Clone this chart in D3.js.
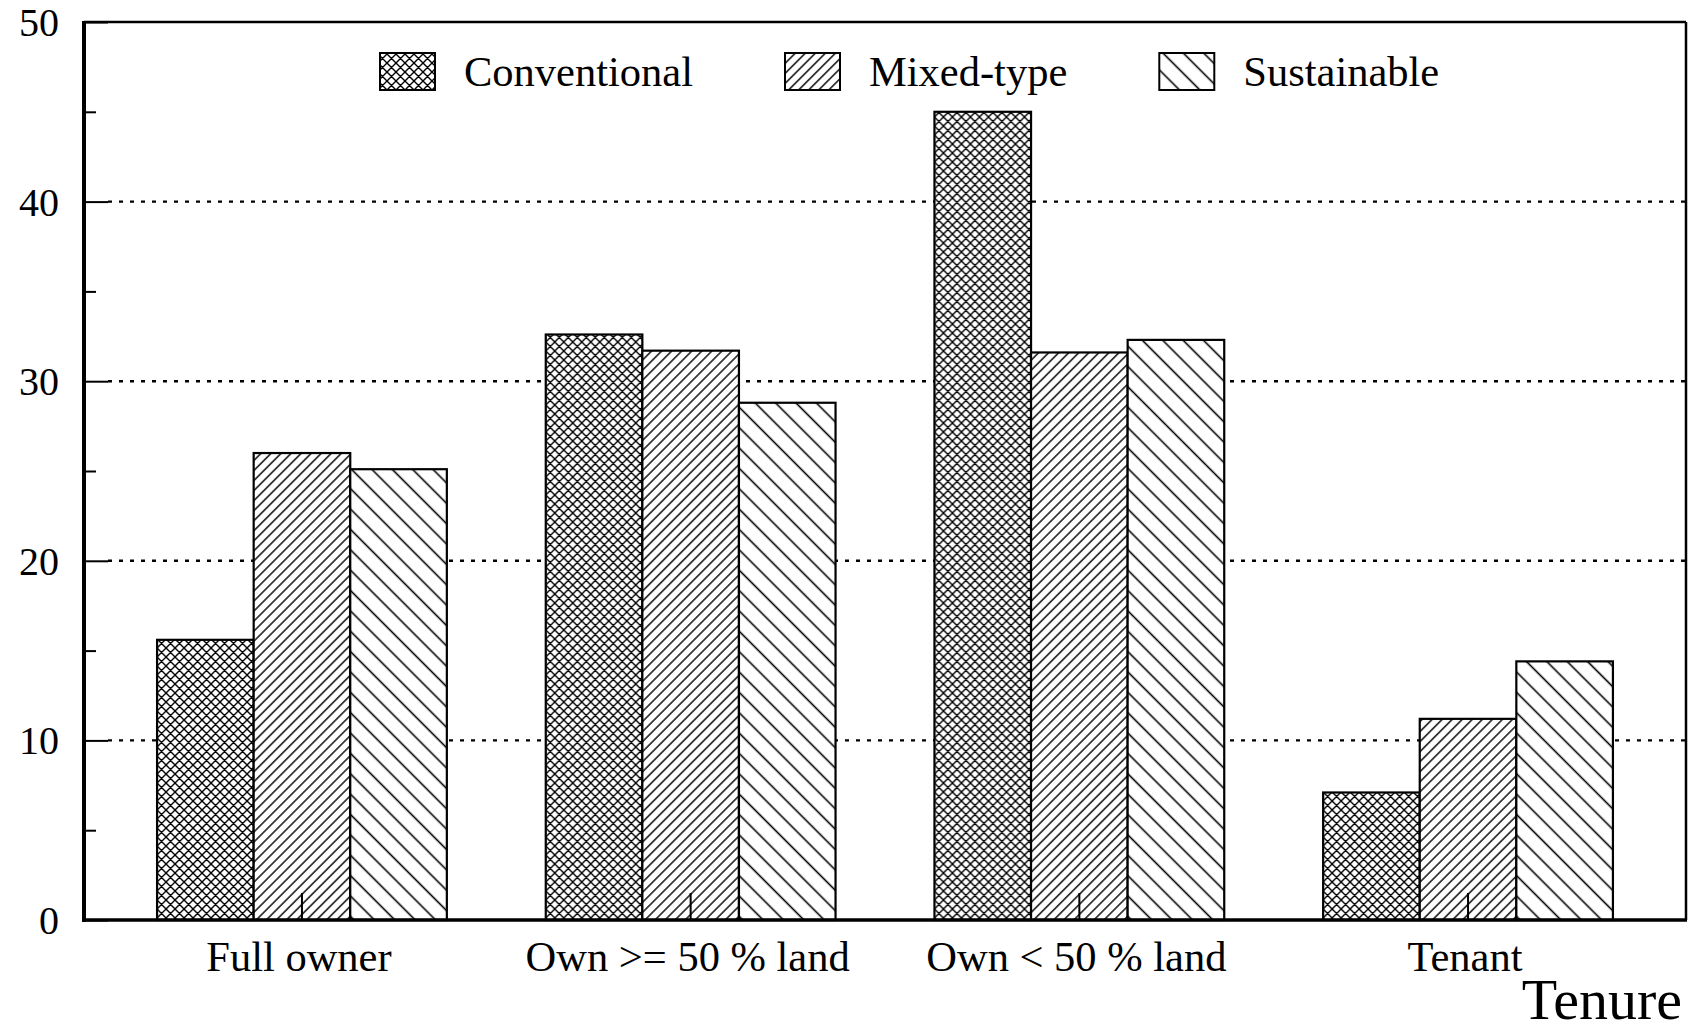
<!DOCTYPE html>
<html>
<head>
<meta charset="utf-8">
<script src="https://cdn.jsdelivr.net/npm/d3@7"></script>
<style>
  html, body { margin: 0; padding: 0; background: #fff; }
  svg { display: block; }
  text { font-family: "Liberation Serif", "Times New Roman", serif; fill: #000; }
</style>
</head>
<body>
<svg id="chart" width="1689" height="1033"></svg>
<script>
// ---- data ----
const categories = ["Full owner", "Own >= 50 % land", "Own < 50 % land", "Tenant"];
const seriesNames = ["Conventional", "Mixed-type", "Sustainable"];
const conventional = [15.6, 32.6, 45.0, 7.1];
const mixedType    = [26.0, 31.7, 31.6, 11.2];
const sustainable  = [25.1, 28.8, 32.3, 14.4];
const yTicks = [0, 10, 20, 30, 40, 50];
const yMinorTicks = [5, 15, 25, 35, 45];
const xTitle = "Tenure";

const seriesValues = [conventional, mixedType, sustainable];

(function () {
// ---- layout ----
const mLeft = 84, mRight = 1686, mTop = 22, mBottom = 920;

const svg = d3.select("#chart");

// patterns
const defs = svg.append("defs");
const pCross = defs.append("pattern").attr("id", "pat0")
  .attr("patternUnits", "userSpaceOnUse").attr("width", 9).attr("height", 9);
pCross.append("rect").attr("width", 9).attr("height", 9).attr("fill", "#fff");
pCross.append("path").attr("d", "M0,0L9,9M0,9L9,0M-1,8L1,10M8,-1L10,1M-1,1L1,-1M8,10L10,8")
  .attr("stroke", "#000").attr("stroke-width", 1.4).attr("fill", "none");

function hatch(id, spacing, angle, sw) {
  const p = defs.append("pattern").attr("id", id)
    .attr("patternUnits", "userSpaceOnUse")
    .attr("width", spacing).attr("height", spacing)
    .attr("patternTransform", `rotate(${angle})`);
  p.append("rect").attr("width", spacing).attr("height", spacing).attr("fill", "#fff");
  p.append("line").attr("x1", spacing / 2).attr("x2", spacing / 2)
    .attr("y1", 0).attr("y2", spacing)
    .attr("stroke", "#000").attr("stroke-width", sw);
}
hatch("pat1", 7.1, 45, 1.4);
hatch("pat2", 14.4, -45, 1.6);
const fills = ["url(#pat0)", "url(#pat1)", "url(#pat2)"];

// scales
const x0 = d3.scaleBand().domain(categories).range([mLeft, mRight])
  .paddingInner(0.2545).paddingOuter(0.188);
const x1 = d3.scaleBand().domain(seriesNames).range([0, x0.bandwidth()]).padding(0);
const y = d3.scaleLinear().domain([0, 50]).range([mBottom, mTop]);

// gridlines (dotted)
svg.append("g").selectAll("line").data(yTicks.filter(d => d > 0 && d < 50)).join("line")
  .attr("x1", mLeft + 24).attr("x2", mRight)
  .attr("y1", d => y(d)).attr("y2", d => y(d))
  .attr("stroke", "#000").attr("stroke-width", 2.4)
  .attr("stroke-dasharray", "4,7");

// y-axis: inward ticks
const yAxis = d3.axisRight(y).tickValues(yTicks).tickSize(24).tickFormat("");
const gy = svg.append("g").attr("transform", `translate(${mLeft},0)`).call(yAxis);
gy.select(".domain").remove();
gy.selectAll(".tick line").attr("stroke", "#000").attr("stroke-width", 2);
const yMinor = d3.axisRight(y).tickValues(yMinorTicks).tickSize(12).tickFormat("");
const gym = svg.append("g").attr("transform", `translate(${mLeft},0)`).call(yMinor);
gym.select(".domain").remove();
gym.selectAll(".tick line").attr("stroke", "#000").attr("stroke-width", 2);

// y tick labels
svg.append("g").selectAll("text").data(yTicks).join("text")
  .attr("x", mLeft - 25).attr("y", d => y(d)).attr("dy", "0.35em")
  .attr("text-anchor", "end").attr("font-size", 40)
  .text(d => d);

// bars
const groups = svg.append("g").selectAll("g").data(categories).join("g")
  .attr("transform", d => `translate(${x0(d)},0)`);
groups.selectAll("rect").data((d, i) => seriesNames.map((s, j) => ({ s, j, v: seriesValues[j][i] })))
  .join("rect")
  .attr("x", d => x1(d.s)).attr("width", x1.bandwidth())
  .attr("y", d => y(d.v)).attr("height", d => y(0) - y(d.v))
  .attr("fill", d => fills[d.j])
  .attr("stroke", "#000").attr("stroke-width", 2.2);

// x-axis ticks (inward, at group centers)
const xAxis = d3.axisTop(x0).tickSize(27).tickFormat("");
const gx = svg.append("g").attr("transform", `translate(0,${mBottom})`).call(xAxis);
gx.select(".domain").remove();
gx.selectAll(".tick line").attr("stroke", "#000").attr("stroke-width", 2);

// x labels
svg.append("g").selectAll("text").data(categories).join("text")
  .attr("x", d => x0(d) + x0.bandwidth() / 2 - 3).attr("y", 971)
  .attr("text-anchor", "middle").attr("font-size", 42.5)
  .text(d => d);

// frame
svg.append("line").attr("x1", mLeft).attr("x2", mRight).attr("y1", mTop).attr("y2", mTop)
  .attr("stroke", "#000").attr("stroke-width", 2.5);
svg.append("line").attr("x1", mRight).attr("x2", mRight).attr("y1", mTop).attr("y2", mBottom)
  .attr("stroke", "#000").attr("stroke-width", 2.5);
svg.append("line").attr("x1", mLeft).attr("x2", mLeft).attr("y1", mTop - 1).attr("y2", mBottom + 2)
  .attr("stroke", "#000").attr("stroke-width", 4);
svg.append("line").attr("x1", mLeft - 2).attr("x2", mRight + 1).attr("y1", mBottom).attr("y2", mBottom)
  .attr("stroke", "#000").attr("stroke-width", 3.5);

// axis title
svg.append("text").attr("x", 1682).attr("y", 1019).attr("text-anchor", "end")
  .attr("font-size", 58).text(xTitle);

// legend
const legend = svg.append("g");
let lx = 380;
seriesNames.forEach((s, j) => {
  legend.append("rect").attr("x", lx).attr("y", 53).attr("width", 55).attr("height", 37)
    .attr("fill", fills[j]).attr("stroke", "#000").attr("stroke-width", 2);
  const t = legend.append("text").attr("x", lx + 84).attr("y", 86)
    .attr("font-size", 42.5).text(s);
  const tw = t.node().getComputedTextLength();
  lx = lx + 84 + tw + 92;
});
})();
</script>
</body>
</html>
